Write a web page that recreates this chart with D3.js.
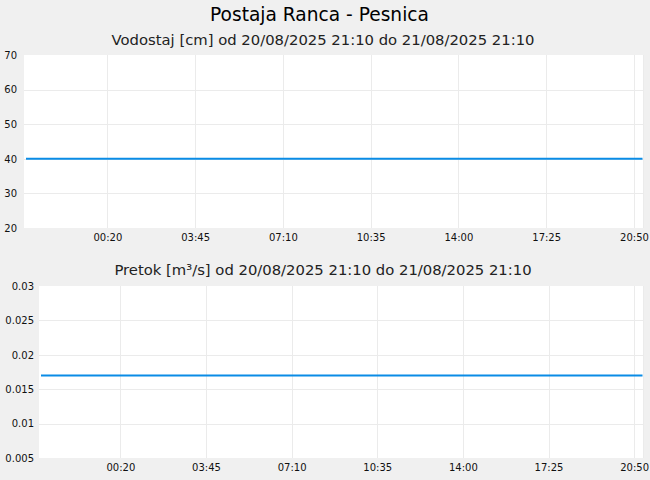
<!DOCTYPE html>
<meta charset="utf-8">
<style>
    body { margin: 0; background: #f0f0f0; }
    svg { display: block; font-family: "DejaVu Sans", sans-serif; }
</style>
<svg width="650" height="480"></svg>
<script src="https://cdn.jsdelivr.net/npm/d3@7"></script>
<script>

    var title = "Postaja Ranca - Pesnica";
    var subtitles = ["Vodostaj [cm] od 20/08/2025 21:10 do 21/08/2025 21:10",
        "Pretok [m³/s] od 20/08/2025 21:10 do 21/08/2025 21:10"];

    // hourly readings
    var times = ["2025-08-20 21:10", "2025-08-20 22:10", "2025-08-20 23:10", "2025-08-21 00:10",
        "2025-08-21 01:10", "2025-08-21 02:10", "2025-08-21 03:10", "2025-08-21 04:10",
        "2025-08-21 05:10", "2025-08-21 06:10", "2025-08-21 07:10", "2025-08-21 08:10",
        "2025-08-21 09:10", "2025-08-21 10:10", "2025-08-21 11:10", "2025-08-21 12:10",
        "2025-08-21 13:10", "2025-08-21 14:10", "2025-08-21 15:10", "2025-08-21 16:10",
        "2025-08-21 17:10", "2025-08-21 18:10", "2025-08-21 19:10", "2025-08-21 20:10",
        "2025-08-21 21:10"];
    var level = [40, 40, 40, 40, 40, 40, 40, 40, 40, 40, 40, 40, 40,
        40, 40, 40, 40, 40, 40, 40, 40, 40, 40, 40, 40];
    var flow = [0.017, 0.017, 0.017, 0.017, 0.017, 0.017, 0.017, 0.017, 0.017, 0.017, 0.017, 0.017, 0.017,
        0.017, 0.017, 0.017, 0.017, 0.017, 0.017, 0.017, 0.017, 0.017, 0.017, 0.017, 0.017];

    var xTicks = ["2025-08-21 00:20", "2025-08-21 03:45", "2025-08-21 07:10", "2025-08-21 10:35",
        "2025-08-21 14:00", "2025-08-21 17:25", "2025-08-21 20:50"];
    var levelTicks = [20, 30, 40, 50, 60, 70];
    var flowTicks = [0.005, 0.01, 0.015, 0.02, 0.025, 0.03];

    var parse = d3.timeParse("%Y-%m-%d %H:%M");

    var svg = d3.select("svg");

    svg.append("text")
        .attr("x", 319.5).attr("y", 14)
        .attr("dy", "0.35em")
        .attr("text-anchor", "middle")
        .attr("font-size", 18.6)
        .attr("fill", "#000")
        .text(title);

    function panel(cfg) {
        var x = d3.scaleTime()
            .domain([parse(times[0]), parse(times[times.length - 1])])
            .range([cfg.left, 642.5]);
        var y = d3.scaleLinear()
            .domain(d3.extent(cfg.ticks))
            .range([cfg.bottom, cfg.top]);

        svg.append("text")
            .attr("x", 323).attr("y", cfg.subY)
            .attr("dy", "0.35em")
            .attr("text-anchor", "middle")
            .attr("font-size", 14.8)
            .attr("fill", "#222")
            .text(cfg.subtitle);

        svg.append("rect")
            .attr("x", cfg.left - 2).attr("y", cfg.top)
            .attr("width", 643.5 - cfg.left + 2).attr("height", cfg.bottom - cfg.top)
            .attr("fill", "#fff");

        var grid = svg.append("g").attr("stroke", "#ebebeb").attr("stroke-width", 1);
        grid.selectAll("line.h")
            .data(cfg.ticks.slice(1, -1))
            .enter().append("line")
            .attr("x1", cfg.left - 2).attr("x2", 643.5)
            .attr("y1", function (d) { return Math.round(y(d)) + 0.5; })
            .attr("y2", function (d) { return Math.round(y(d)) + 0.5; });
        grid.selectAll("line.v")
            .data(xTicks.map(parse).concat([x.domain()[1]]))
            .enter().append("line")
            .attr("x1", function (d) { return Math.round(x(d)) + 0.5; })
            .attr("x2", function (d) { return Math.round(x(d)) + 0.5; })
            .attr("y1", cfg.top).attr("y2", cfg.bottom);

        var yAxis = svg.append("g")
            .attr("transform", "translate(" + cfg.labelX + ",0)")
            .call(d3.axisLeft(y).tickValues(cfg.ticks).tickSize(0).tickPadding(0)
                .tickFormat(function (d) { return String(d); }));
        yAxis.select(".domain").remove();
        yAxis.selectAll("text").attr("font-size", 10).attr("font-family", "DejaVu Sans").attr("fill", "#111");

        var xAxis = svg.append("g")
            .attr("transform", "translate(0," + cfg.bottom + ")")
            .call(d3.axisBottom(x).tickValues(xTicks.map(parse)).tickSize(0).tickPadding(6)
                .tickFormat(d3.timeFormat("%H:%M")));
        xAxis.select(".domain").remove();
        xAxis.selectAll("text").attr("font-size", 10).attr("font-family", "DejaVu Sans").attr("fill", "#111");

        svg.append("path")
            .datum(cfg.values)
            .attr("fill", "none")
            .attr("stroke", "#0a8ce6")
            .attr("stroke-width", 2)
            .attr("d", d3.line()
                .x(function (d, i) { return x(parse(times[i])); })
                .y(function (d) { return y(d); }));
    }

    panel({ subtitle: subtitles[0], subY: 40, top: 55, bottom: 228, left: 26, labelX: 17, ticks: levelTicks, values: level });
    panel({ subtitle: subtitles[1], subY: 270, top: 286, bottom: 458, left: 41, labelX: 34, ticks: flowTicks, values: flow });

</script>
